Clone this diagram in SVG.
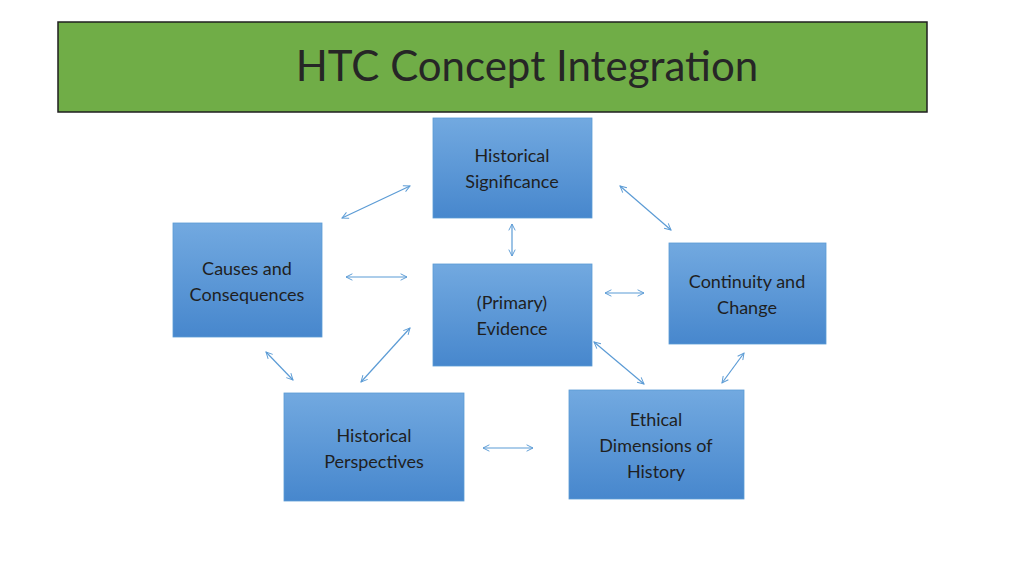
<svg xmlns="http://www.w3.org/2000/svg" width="1024" height="576" viewBox="0 0 1024 576">
<style>
.box{fill:url(#g);stroke:#5B9BD5;stroke-width:0.8}
.t{font-family:Lato,"Open Sans","Liberation Sans",sans-serif;font-size:18px;fill:#1f1f1f;text-anchor:middle}
.c{stroke:#5B9BD5;stroke-width:1.2;fill:none;marker-start:url(#a);marker-end:url(#a)}
</style>
<defs>
<linearGradient id="g" x1="0" y1="0" x2="0" y2="1"><stop offset="0" stop-color="#72A9E0"/><stop offset="1" stop-color="#4787CD"/></linearGradient>
<marker id="a" viewBox="0 0 10 10" refX="9" refY="5" markerWidth="8" markerHeight="8" orient="auto-start-reverse" markerUnits="userSpaceOnUse"><path d="M1,1 L9,5 L1,9" fill="none" stroke="#5B9BD5" stroke-width="1.2"/></marker>
</defs>
<rect width="1024" height="576" fill="#fff"/>
<g id="title"><rect x="58" y="22" width="869" height="90" fill="#70AD47" stroke="#1f1f1f" stroke-width="1.5"/>
<text x="527" y="81" font-family="Lato,'Open Sans','Liberation Sans',sans-serif" font-size="42" fill="#262626" text-anchor="middle">HTC Concept Integration</text></g>
<g id="connectors">
<line class="c" x1="342" y1="218" x2="410" y2="186"/>
<line class="c" x1="620" y1="186" x2="671" y2="230"/>
<line class="c" x1="512" y1="224" x2="512" y2="256"/>
<line class="c" x1="346" y1="277" x2="407" y2="277"/>
<line class="c" x1="605" y1="293" x2="644" y2="293"/>
<line class="c" x1="266" y1="352" x2="293" y2="380"/>
<line class="c" x1="361" y1="382" x2="410" y2="328"/>
<line class="c" x1="594" y1="342" x2="644" y2="384"/>
<line class="c" x1="744" y1="353" x2="722" y2="383"/>
<line class="c" x1="483" y1="448" x2="533" y2="448"/>
</g>
<g id="sig"><rect class="box" x="433" y="118" width="159" height="100"/><text class="t" x="512" y="162">Historical</text><text class="t" x="512" y="188">Significance</text></g>
<g id="causes"><rect class="box" x="173" y="223" width="149" height="114"/><text class="t" x="247" y="275">Causes and</text><text class="t" x="247" y="301">Consequences</text></g>
<g id="evidence"><rect class="box" x="433" y="264" width="159" height="102"/><text class="t" x="512" y="309">(Primary)</text><text class="t" x="512" y="335">Evidence</text></g>
<g id="continuity"><rect class="box" x="669" y="243" width="157" height="101"/><text class="t" x="747" y="288">Continuity and</text><text class="t" x="747" y="314">Change</text></g>
<g id="perspectives"><rect class="box" x="284" y="393" width="180" height="108"/><text class="t" x="374" y="442">Historical</text><text class="t" x="374" y="468">Perspectives</text></g>
<g id="ethical"><rect class="box" x="569" y="390" width="175" height="109"/><text class="t" x="656" y="426">Ethical</text><text class="t" x="656" y="452">Dimensions of</text><text class="t" x="656" y="478">History</text></g>
</svg>
